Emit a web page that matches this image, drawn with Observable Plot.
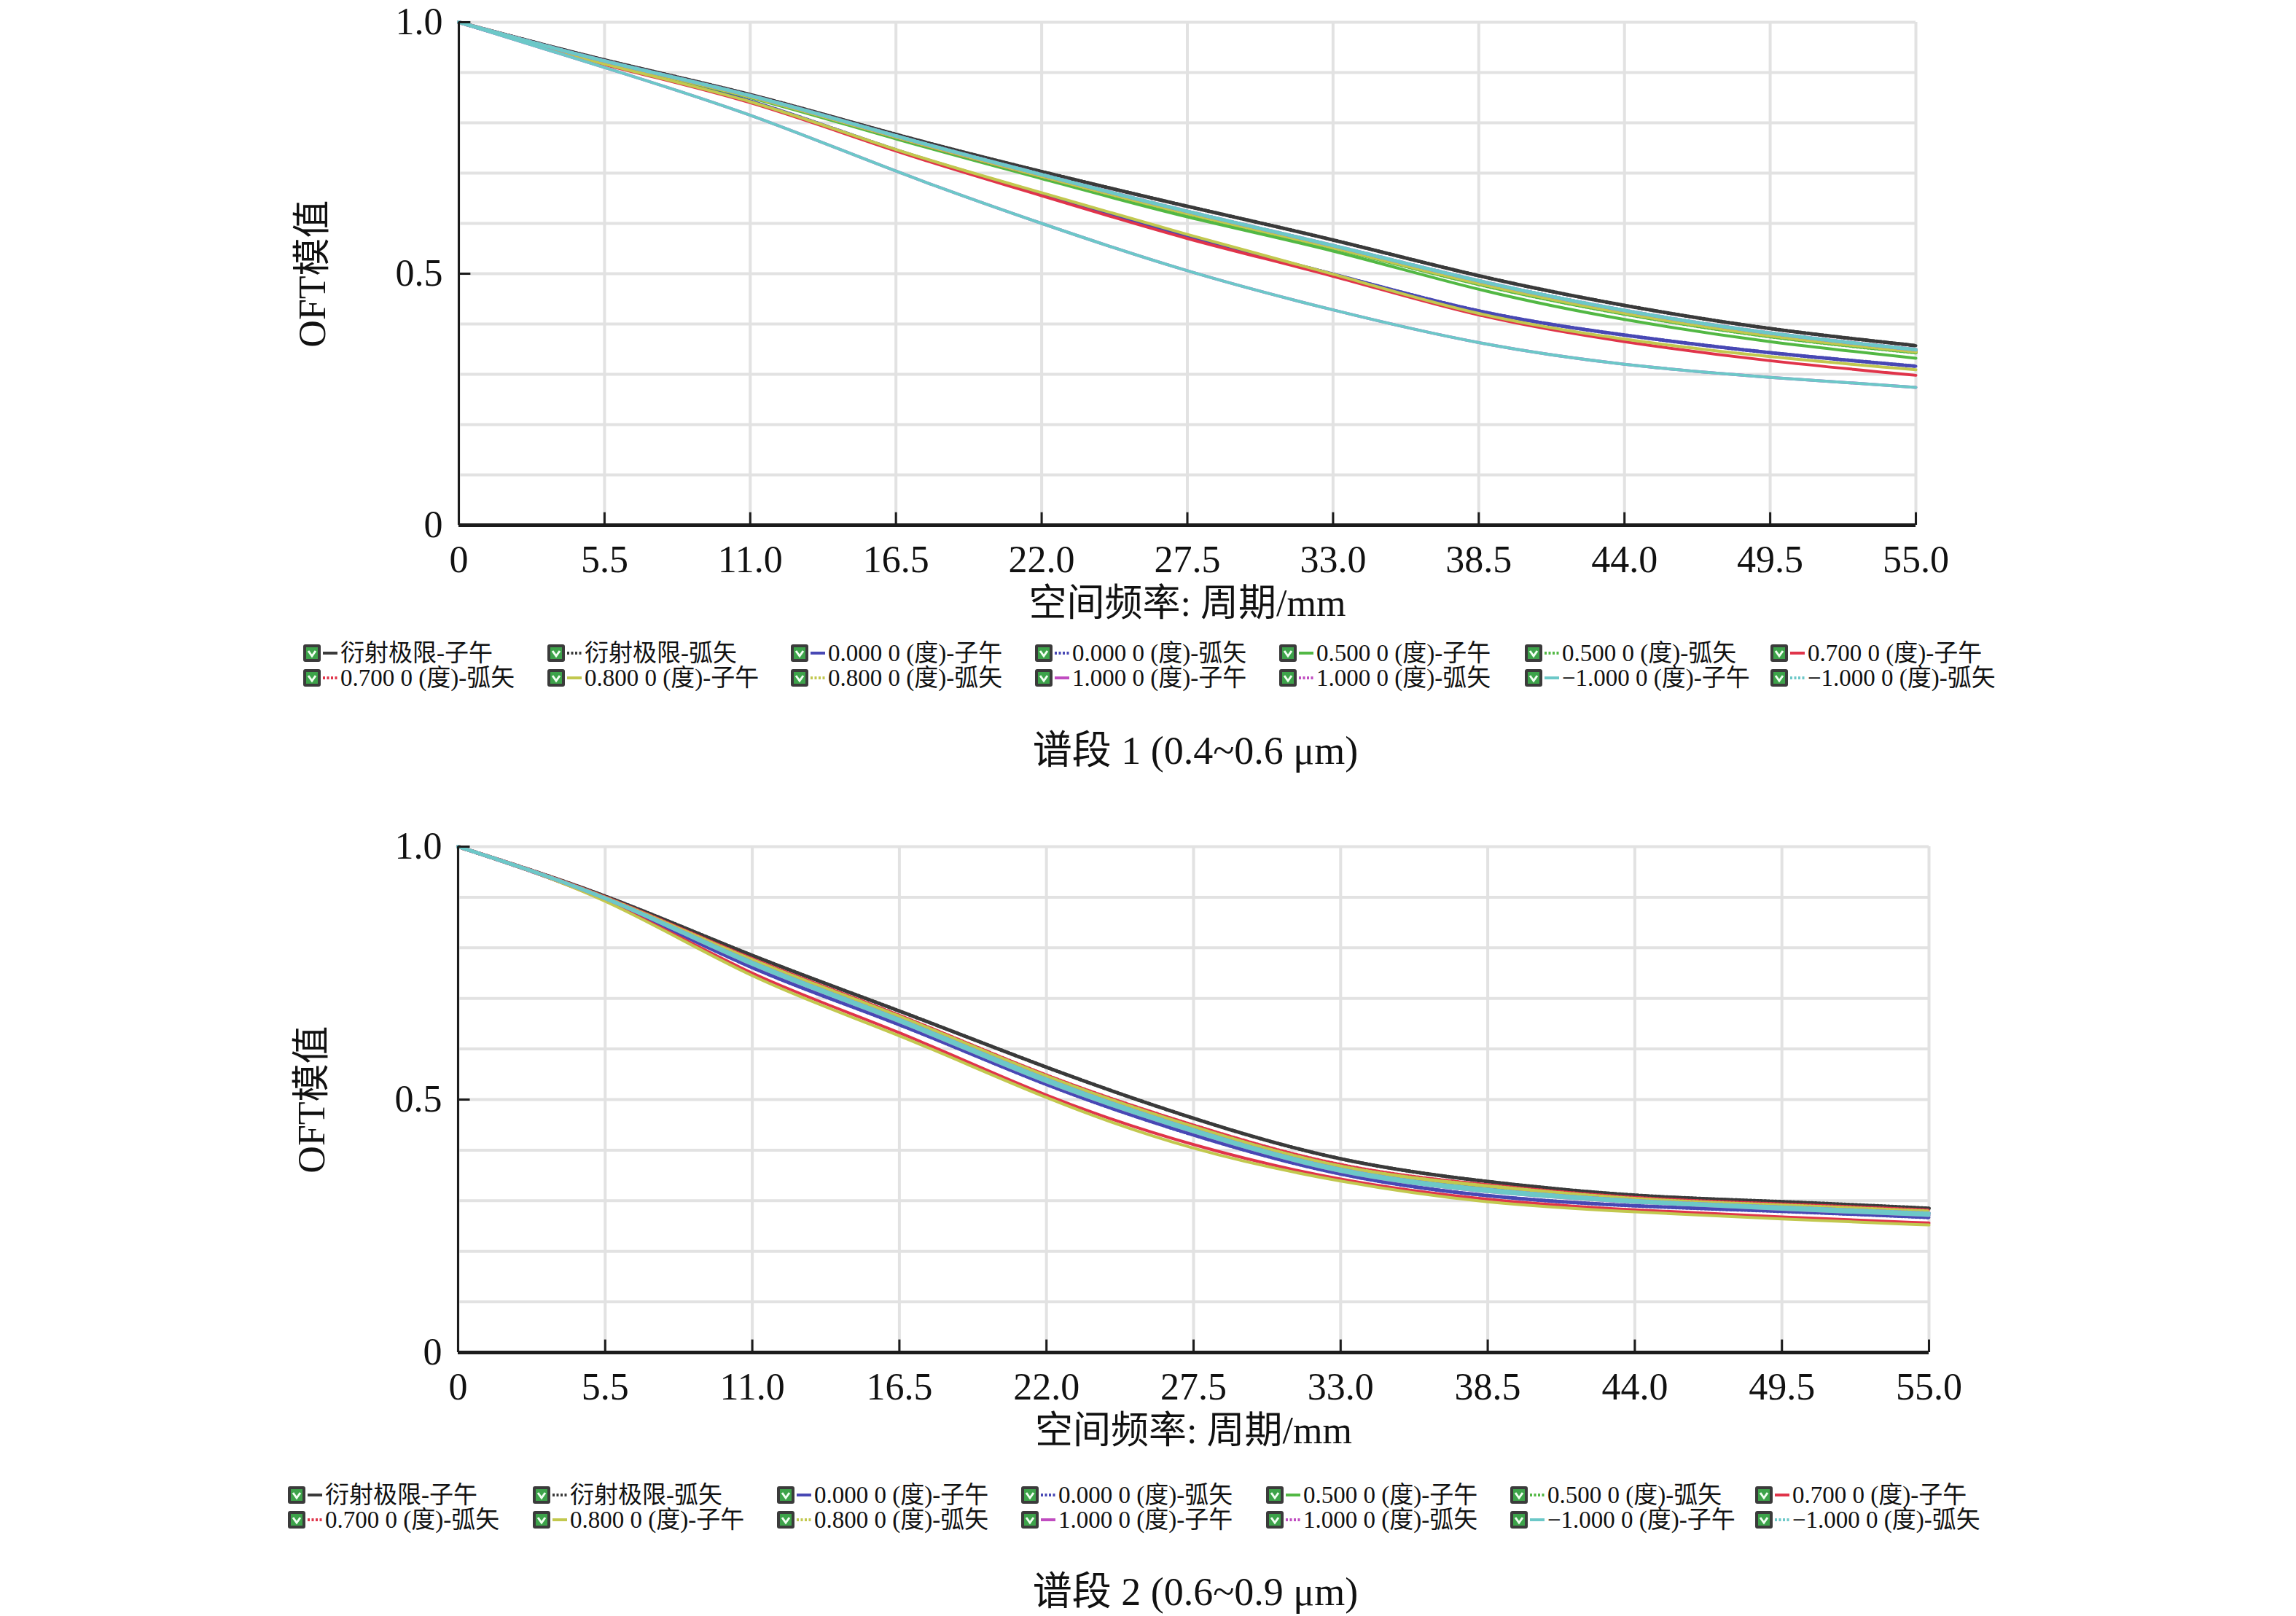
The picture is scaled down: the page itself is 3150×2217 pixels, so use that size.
<!DOCTYPE html>
<html><head><meta charset="utf-8">
<script src="https://cdn.jsdelivr.net/npm/d3@7"></script>
<script src="https://cdn.jsdelivr.net/npm/@observablehq/plot@0.6"></script>
<style>
body{margin:0;background:#fff;}
#page{position:relative;width:3150px;height:2217px;background:#fff;font-family:"Liberation Serif","Noto Sans CJK SC",serif;color:#111;overflow:hidden}
.chart{position:absolute;left:0;}
.legend-item{position:absolute;display:flex;align-items:center;height:36px;font-size:33px;line-height:36px;white-space:nowrap;color:#111;}
.legend-item svg{flex:none;display:block;}
.caption{position:absolute;width:1200px;text-align:center;font-size:54px;line-height:54px;white-space:nowrap;color:#111;}
</style></head>
<body><div id="page"></div>
<script>
// ---- shared axes ----
const freq = [0, 5.5, 11, 16.5, 22, 27.5, 33, 38.5, 44, 49.5, 55];
const xTickLabels = ["0", "5.5", "11.0", "16.5", "22.0", "27.5", "33.0", "38.5", "44.0", "49.5", "55.0"];
const yTicks = [0, 0.5, 1];
const yTickLabels = ["0", "0.5", "1.0"];
const yGrid = [0, 0.1, 0.2, 0.3, 0.4, 0.5, 0.6, 0.7, 0.8, 0.9, 1.0];
const xTitle = "空间频率: 周期/mm";
const yTitle = "OFT模值";

// ---- series ----
const seriesNames = [
  "衍射极限-子午", "衍射极限-弧矢", "0.000 0 (度)-子午", "0.000 0 (度)-弧矢",
  "0.500 0 (度)-子午", "0.500 0 (度)-弧矢", "0.700 0 (度)-子午",
  "0.700 0 (度)-弧矢", "0.800 0 (度)-子午", "0.800 0 (度)-弧矢",
  "1.000 0 (度)-子午", "1.000 0 (度)-弧矢", "\u22121.000 0 (度)-子午", "\u22121.000 0 (度)-弧矢"
];
const seriesColors = [
  "#3a3a3a", "#3a3a3a", "#4848b4", "#4848b4", "#52b844", "#52b844", "#e0344a",
  "#e0344a", "#c2c84e", "#c2c84e", "#c04cc0", "#c04cc0", "#6cc8c8", "#6cc8c8"
];
const seriesDotted = [false, true, false, true, false, true, false, true, false, true, false, true, false, true];

// ---- band 1 (0.4~0.6 um) ----
const b1_diffT  = [1, 0.925, 0.856, 0.777, 0.703, 0.634, 0.567, 0.496, 0.437, 0.391, 0.357];
const b1_diffS  = [1, 0.925, 0.856, 0.777, 0.703, 0.634, 0.567, 0.496, 0.437, 0.391, 0.357];
const b1_f000T  = [1, 0.918, 0.843, 0.746, 0.659, 0.574, 0.499, 0.426, 0.378, 0.343, 0.316];
const b1_f000S  = [1, 0.918, 0.843, 0.746, 0.659, 0.574, 0.499, 0.426, 0.378, 0.343, 0.316];
const b1_f050T  = [1, 0.921, 0.850, 0.768, 0.689, 0.613, 0.545, 0.469, 0.409, 0.365, 0.332];
const b1_f050S  = [1, 0.922, 0.852, 0.771, 0.693, 0.619, 0.551, 0.479, 0.420, 0.375, 0.343];
const b1_f070T  = [1, 0.916, 0.840, 0.744, 0.655, 0.570, 0.495, 0.418, 0.365, 0.327, 0.298];
const b1_f070S  = [1, 0.922, 0.853, 0.772, 0.694, 0.621, 0.553, 0.482, 0.423, 0.378, 0.346];
const b1_f080T  = [1, 0.917, 0.842, 0.747, 0.661, 0.578, 0.499, 0.421, 0.370, 0.335, 0.309];
const b1_f080S  = [1, 0.922, 0.852, 0.772, 0.694, 0.620, 0.552, 0.481, 0.422, 0.377, 0.345];
const b1_f100T  = [1, 0.910, 0.815, 0.704, 0.600, 0.506, 0.428, 0.363, 0.320, 0.294, 0.274];
const b1_f100S  = [1, 0.923, 0.854, 0.774, 0.697, 0.624, 0.556, 0.486, 0.427, 0.382, 0.349];
const b1_fm100T = [1, 0.910, 0.815, 0.704, 0.600, 0.506, 0.428, 0.363, 0.320, 0.294, 0.274];
const b1_fm100S = [1, 0.923, 0.854, 0.774, 0.697, 0.624, 0.556, 0.486, 0.427, 0.382, 0.349];

// ---- band 2 (0.6~0.9 um) ----
const b2_diffT  = [1, 0.902, 0.785, 0.675, 0.564, 0.463, 0.383, 0.338, 0.311, 0.298, 0.285];
const b2_diffS  = [1, 0.902, 0.785, 0.675, 0.564, 0.463, 0.383, 0.338, 0.311, 0.298, 0.285];
const b2_f000T  = [1, 0.895, 0.761, 0.648, 0.530, 0.430, 0.353, 0.310, 0.290, 0.279, 0.267];
const b2_f000S  = [1, 0.895, 0.761, 0.648, 0.530, 0.430, 0.353, 0.310, 0.290, 0.279, 0.267];
const b2_f050T  = [1, 0.898, 0.773, 0.660, 0.541, 0.441, 0.364, 0.325, 0.301, 0.287, 0.275];
const b2_f050S  = [1, 0.899, 0.777, 0.665, 0.547, 0.447, 0.369, 0.330, 0.305, 0.292, 0.280];
const b2_f070T  = [1, 0.893, 0.750, 0.632, 0.509, 0.411, 0.343, 0.303, 0.282, 0.268, 0.256];
const b2_f070S  = [1, 0.900, 0.778, 0.666, 0.548, 0.449, 0.371, 0.331, 0.306, 0.293, 0.281];
const b2_f080T  = [1, 0.892, 0.745, 0.626, 0.504, 0.404, 0.339, 0.298, 0.278, 0.264, 0.252];
const b2_f080S  = [1, 0.899, 0.776, 0.664, 0.546, 0.446, 0.368, 0.329, 0.304, 0.291, 0.279];
const b2_f100T  = [1, 0.897, 0.767, 0.654, 0.535, 0.436, 0.358, 0.318, 0.297, 0.283, 0.271];
const b2_f100S  = [1, 0.898, 0.771, 0.658, 0.540, 0.440, 0.362, 0.322, 0.300, 0.287, 0.275];
const b2_fm100T = [1, 0.897, 0.767, 0.654, 0.535, 0.436, 0.358, 0.318, 0.297, 0.283, 0.271];
const b2_fm100S = [1, 0.898, 0.771, 0.658, 0.540, 0.440, 0.362, 0.322, 0.300, 0.287, 0.275];

const band1Series = [b1_diffT, b1_diffS, b1_f000T, b1_f000S, b1_f050T, b1_f050S, b1_f070T, b1_f070S, b1_f080T, b1_f080S, b1_f100T, b1_f100S, b1_fm100T, b1_fm100S];
const band2Series = [b2_diffT, b2_diffS, b2_f000T, b2_f000S, b2_f050T, b2_f050S, b2_f070T, b2_f070S, b2_f080T, b2_f080S, b2_f100T, b2_f100S, b2_fm100T, b2_fm100S];
const captions = ["谱段 1 (0.4~0.6 μm)", "谱段 2 (0.6~0.9 μm)"];

const page = document.getElementById("page");
const FONT = "'Liberation Serif','Noto Sans CJK SC',serif";

function drawChart(cfg) {
  const W = 3150, marginTop = 30, marginBottom = 170;
  const plotH = cfg.yZero - cfg.yOne;
  const H = marginTop + plotH + marginBottom;
  const rows = cfg.series.map(v => freq.map((f, j) => ({f, v: v[j]})));
  const axisColor = "#1c1c1c";
  const chart = Plot.plot({
    width: W, height: H,
    marginTop, marginBottom,
    marginLeft: cfg.xLeft, marginRight: W - cfg.xRight,
    x: {domain: [0, 55]},
    y: {domain: [0, 1]},
    style: {fontFamily: FONT, fontSize: "52px", color: "#111", background: "white", overflow: "visible"},
    marks: [
      Plot.gridX(freq, {stroke: "#e2e2e2", strokeOpacity: 1, strokeWidth: 4}),
      Plot.gridY(yGrid, {stroke: "#e2e2e2", strokeOpacity: 1, strokeWidth: 4}),
      ...rows.map((r, i) => Plot.line(r, {
        x: "f", y: "v", stroke: seriesColors[i],
        strokeWidth: seriesDotted[i] ? 5 : 4,
        strokeDasharray: seriesDotted[i] ? "2.5,2.5" : undefined,
        curve: "natural"
      })),
      Plot.ruleY([0], {stroke: axisColor, strokeWidth: 5}),
      Plot.ruleX([0], {stroke: axisColor, strokeWidth: 3}),
      Plot.ruleX(freq, {x: d => d, y1: 0, y2: 0.025, stroke: axisColor, strokeWidth: 3}),
      Plot.ruleY(yTicks, {y: d => d, x1: 0, x2: 0.45, stroke: axisColor, strokeWidth: 3}),
      Plot.axisX({ticks: freq, tickFormat: d => xTickLabels[freq.indexOf(d)], tickSize: 0, tickPadding: 28,
        label: xTitle, labelAnchor: "center", labelArrow: "none", labelOffset: 124}),
      Plot.axisY({ticks: yTicks, tickFormat: d => yTickLabels[yTicks.indexOf(d)], tickSize: 0, tickPadding: 22,
        label: yTitle, labelAnchor: "center", labelArrow: "none", labelOffset: 220})
    ]
  });
  const wrap = document.createElement("div");
  wrap.className = "chart";
  wrap.style.top = (cfg.yOne - marginTop) + "px";
  wrap.appendChild(chart);
  page.appendChild(wrap);

  // legend
  seriesNames.forEach((name, i) => {
    const col = i % 7, row = Math.floor(i / 7);
    const item = document.createElement("div");
    item.className = "legend-item";
    item.style.left = cfg.legendCols[col] + "px";
    item.style.top = (cfg.legendRows[row] - 18) + "px";
    const dash = seriesDotted[i] ? "3,2.5" : "none";
    item.innerHTML =
      `<svg width="26" height="26" viewBox="0 0 26 26"><rect x="1" y="1" width="24" height="24" rx="3" fill="#3b3b3b"/>` +
      `<rect x="5" y="5" width="16" height="16" fill="#3da34a"/><path d="M8 10 L13 17 L18 10" fill="none" stroke="#f2fff2" stroke-width="3"/></svg>` +
      `<svg width="20" height="10" style="margin:0 4px 0 2px"><line x1="0" y1="5" x2="20" y2="5" stroke="${seriesColors[i]}" stroke-width="4" stroke-dasharray="${dash}"/></svg>` +
      `<span>${name}</span>`;
    page.appendChild(item);
  });

  const cap = document.createElement("div");
  cap.className = "caption";
  cap.style.left = (cfg.captionX - 600) + "px";
  cap.style.top = (cfg.captionY - 27) + "px";
  cap.textContent = cfg.caption;
  page.appendChild(cap);
}

drawChart({
  series: band1Series, caption: captions[0],
  xLeft: 629, xRight: 2628, yOne: 30, yZero: 720,
  legendCols: [415, 750, 1084, 1419, 1754, 2091, 2428],
  legendRows: [896, 930],
  captionX: 1640, captionY: 1030
});
drawChart({
  series: band2Series, caption: captions[1],
  xLeft: 628, xRight: 2646, yOne: 1161, yZero: 1855,
  legendCols: [394, 730, 1065, 1400, 1736, 2071, 2407],
  legendRows: [2051, 2085],
  captionX: 1640, captionY: 2184
});
</script></body></html>
